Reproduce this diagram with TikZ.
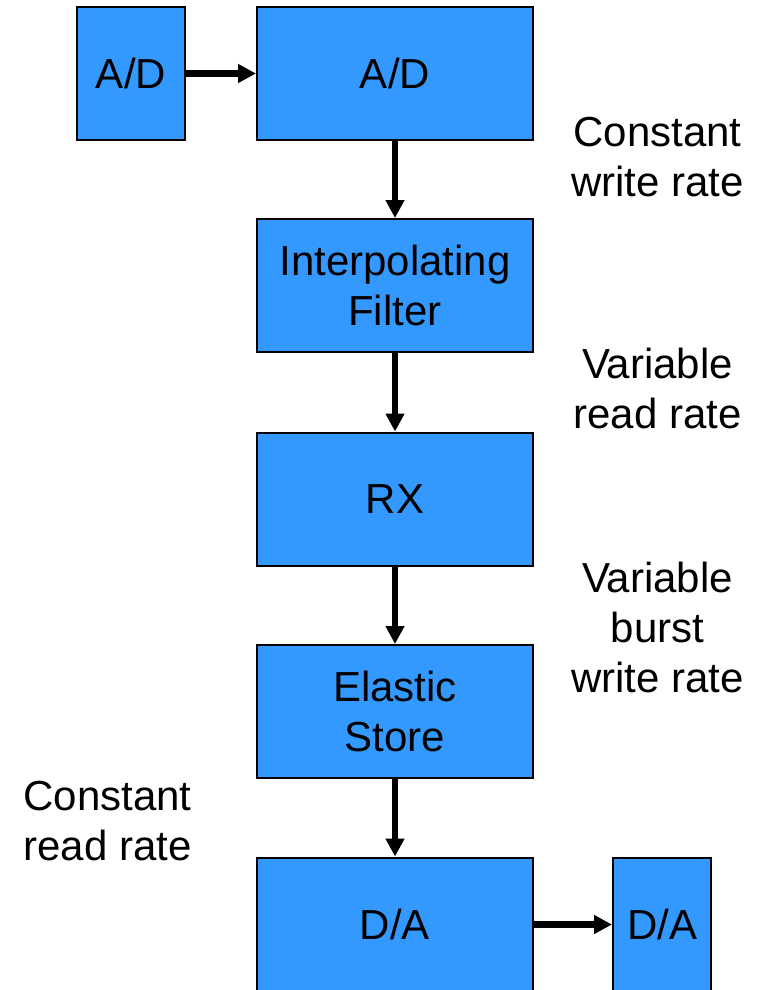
\documentclass[tikz,border=0pt]{standalone}
\usepackage{fontspec}
\setmainfont{Liberation Sans}
\usetikzlibrary{arrows.meta}
\definecolor{boxblue}{RGB}{51,153,255}
\begin{document}
\begin{tikzpicture}[x=1bp,y=-1bp,
  blk/.style={draw=black, line width=2bp, fill=boxblue, inner sep=0pt, align=center,
    font=\fontsize{42bp}{50bp}\selectfont},
  lbl/.style={inner sep=0pt, align=center, font=\fontsize{42bp}{50bp}\selectfont},
  flow/.style={line width=6.5bp, -{Triangle[length=18bp,width=18bp]}}]
\useasboundingbox[fill=white] (0,0) rectangle (769,990);
\node[blk, minimum width=108bp, minimum height=133bp] (ad1) at (131,73.5) {A/D};
\node[blk, minimum width=276bp, minimum height=133bp] (ad2) at (395,73.5) {A/D};
\node[blk, minimum width=276bp, minimum height=133bp] (filt) at (395,285.5) {Interpolating\\Filter};
\node[blk, minimum width=276bp, minimum height=133bp] (rx) at (395,499) {RX};
\node[blk, minimum width=276bp, minimum height=133bp] (es) at (395,711.5) {Elastic\\Store};
\node[blk, minimum width=276bp, minimum height=134bp] (da1) at (395,924.5) {D/A};
\node[blk, minimum width=98bp, minimum height=134bp] (da2) at (662,924.5) {D/A};
\draw[flow] (ad1) -- (ad2);
\draw[flow] (ad2) -- (filt);
\draw[flow] (filt) -- (rx);
\draw[flow] (rx) -- (es);
\draw[flow] (es) -- (da1);
\draw[flow] (da1) -- (da2);
\node[lbl] (l1) at (657.5,157) {Constant\\write rate};
\node[lbl] (l2) at (657.5,388) {Variable\\read rate};
\node[lbl] (l3) at (657.5,627) {Variable\\burst\\write rate};
\node[lbl] (l4) at (107.5,821.5) {Constant\\read rate};
\end{tikzpicture}
\end{document}
